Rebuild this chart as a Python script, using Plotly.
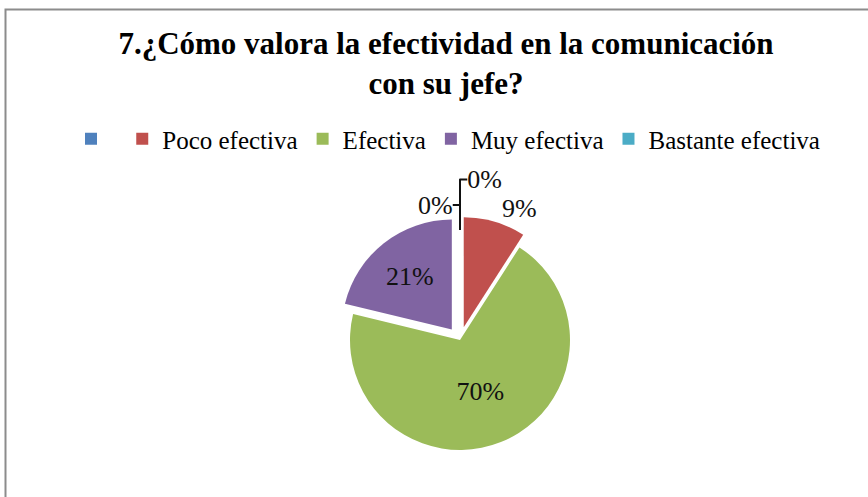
import plotly.graph_objects as go

categories = [" ", "Poco efectiva", "Efectiva", "Muy efectiva", "Bastante efectiva"]
counts = [0, 3, 23, 7, 0]
colors = ["#4F81BD", "#C0504D", "#9BBB59", "#8064A2", "#4BACC6"]
pulls = [0, 0.12, 0, 0.12, 0]
text_pos = ["outside", "outside", "inside", "inside", "outside"]

W, H = 868, 497
cy = 340
r = 110
half = r * 1.12
fig = go.Figure(go.Pie(
    labels=categories,
    values=counts,
    sort=False,
    direction="clockwise",
    rotation=0,
    pull=pulls,
    marker=dict(colors=colors, line=dict(color="white", width=0)),
    texttemplate="%{percent:.0%}",
    textposition=text_pos,
    textfont=dict(family="Liberation Serif", size=26, color="#111111"),
    insidetextorientation="horizontal",
    hoverinfo="label+percent",
    domain=dict(x=[(460 - 170) / W, (460 + 170) / W],
                y=[1 - (cy + half) / H, 1 - (cy - half) / H]),
    showlegend=True,
))

fig.update_layout(
    width=W, height=H,
    margin=dict(l=0, r=0, t=0, b=0),
    paper_bgcolor="white",
    plot_bgcolor="white",
    title=dict(
        text="<b>7.¿Cómo valora la efectividad en la comunicación<br>con su jefe?</b>",
        x=446 / W, xanchor="center",
        y=1 - 54 / H, yanchor="top",
        font=dict(family="Liberation Serif", size=31, color="#000000"),
    ),
    legend=dict(
        orientation="h",
        x=448 / W, xanchor="center",
        y=1 - 116 / H, yanchor="top",
        font=dict(family="Liberation Serif", size=25, color="#000000"),
        itemwidth=30,
        traceorder="normal",
    ),
    shapes=[dict(
        type="rect", xref="paper", yref="paper",
        x0=5.5 / W, x1=1.05, y0=-0.05, y1=1 - 9.5 / H,
        line=dict(color="#8C8C8C", width=2), fillcolor="rgba(0,0,0,0)",
    )],
)

fig.write_html("out.html")
